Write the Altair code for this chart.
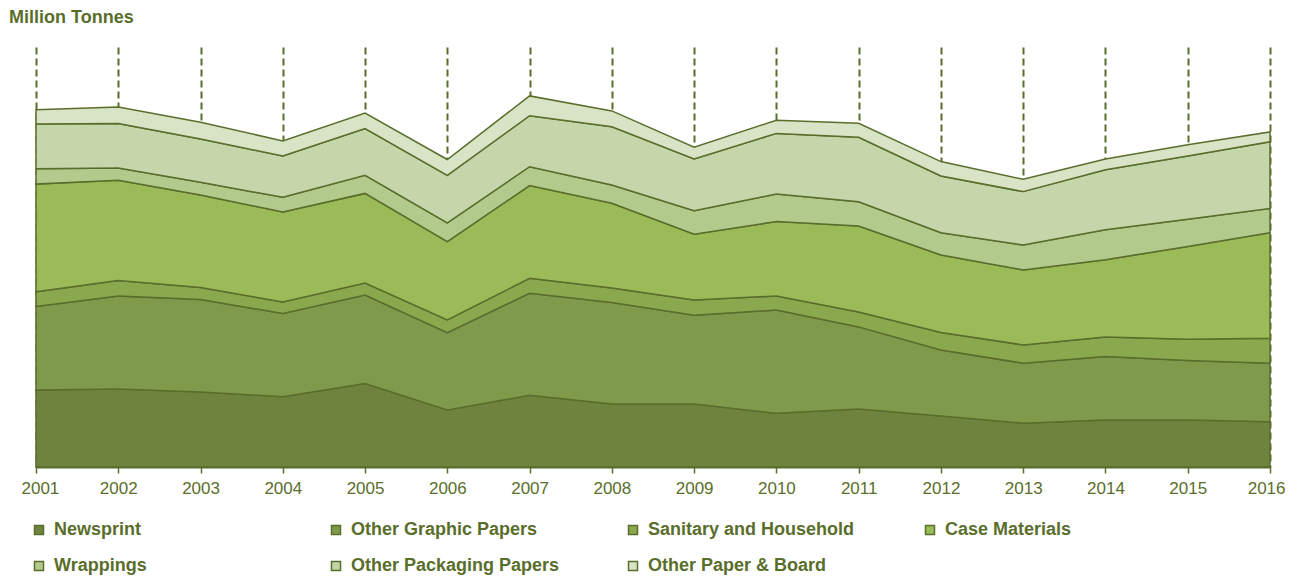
import altair as alt
import pandas as pd

years = list(range(2001, 2017))
series = ["Newsprint", "Other Graphic Papers", "Sanitary and Household", "Case Materials",
          "Wrappings", "Other Packaging Papers", "Other Paper & Board"]

newsprint = [2.57, 2.60, 2.50, 2.34, 2.78, 1.90, 2.39, 2.10, 2.10, 1.79, 1.93, 1.70, 1.46, 1.57, 1.57, 1.51]
other_graphic = [2.78, 3.10, 3.08, 2.78, 2.95, 2.58, 3.40, 3.38, 2.96, 3.44, 2.74, 2.20, 2.00, 2.11, 1.98, 1.95]
sanitary = [0.49, 0.52, 0.40, 0.38, 0.40, 0.42, 0.50, 0.49, 0.51, 0.47, 0.50, 0.58, 0.61, 0.65, 0.71, 0.83]
case_materials = [3.59, 3.34, 3.09, 3.00, 2.99, 2.61, 3.09, 2.82, 2.19, 2.48, 2.86, 2.59, 2.50, 2.58, 3.09, 3.52]
wrappings = [0.51, 0.41, 0.42, 0.49, 0.60, 0.63, 0.63, 0.61, 0.78, 0.92, 0.81, 0.74, 0.83, 1.00, 0.91, 0.81]
other_packaging = [1.49, 1.48, 1.44, 1.38, 1.56, 1.58, 1.70, 1.94, 1.73, 2.02, 2.15, 1.89, 1.78, 2.00, 2.11, 2.22]
other_board = [0.48, 0.55, 0.56, 0.50, 0.52, 0.53, 0.66, 0.53, 0.39, 0.44, 0.47, 0.48, 0.41, 0.36, 0.37, 0.33]

colors = ["#6e843e", "#7f9a4a", "#8aa94f", "#9bbb59", "#b2ca8c", "#c5d6ab", "#d9e4c6"]
LINE = "#5a6e2c"
TEXT = "#5a6e2c"
FONT = "Liberation Sans, Arial, sans-serif"

all_values = [newsprint, other_graphic, sanitary, case_materials, wrappings, other_packaging, other_board]
rows = []
for i, (name, vals) in enumerate(zip(series, all_values)):
    for yr, v in zip(years, vals):
        rows.append({"year": yr, "series": name, "value": v, "idx": i})
df = pd.DataFrame(rows)

chart = alt.Chart(df).mark_area(stroke=LINE, strokeWidth=1.5, opacity=1).encode(
    x=alt.X("year:Q",
            scale=alt.Scale(domain=[2001, 2016], nice=False, zero=False),
            axis=alt.Axis(values=years, format="d", title=None, grid=True,
                          gridDash=[7, 4], gridColor=LINE, gridWidth=2, gridOpacity=1,
                          domainColor=LINE, domainWidth=2, tickColor=LINE, tickSize=6,
                          tickWidth=1.5, labelColor=TEXT, labelFontSize=17, labelFont=FONT,
                          labelPadding=7, labelFlush=True, labelFlushOffset=15,
                          labelOverlap=False)),
    y=alt.Y("value:Q", stack="zero", scale=alt.Scale(domain=[0, 14], nice=False), axis=None),
    color=alt.Color("series:N", scale=alt.Scale(domain=series, range=colors),
                    legend=alt.Legend(title=None, orient="none", legendX=-6, legendY=474,
                                      direction="horizontal", columns=4, symbolType="square",
                                      symbolSize=81, symbolStrokeColor=LINE, symbolStrokeWidth=1.5,
                                      symbolOpacity=1, labelFont=FONT, labelFontSize=18,
                                      labelFontWeight="bold", labelColor=TEXT, labelLimit=400,
                                      labelOffset=6, columnPadding=64, rowPadding=18,
                                      gridAlign="all", padding=0)),
    order=alt.Order("idx:Q", sort="ascending"),
).properties(
    width=1234, height=420,
    title=alt.TitleParams("Million Tonnes", anchor="start", frame="group", dx=-27, offset=20,
                          fontSize=18, font=FONT, fontWeight="bold", color=TEXT),
    padding={"left": 1, "top": 1, "right": 0, "bottom": 0},
).configure_view(stroke=None)

chart.save("out.html", embed_options={"renderer": "svg", "actions": False})
